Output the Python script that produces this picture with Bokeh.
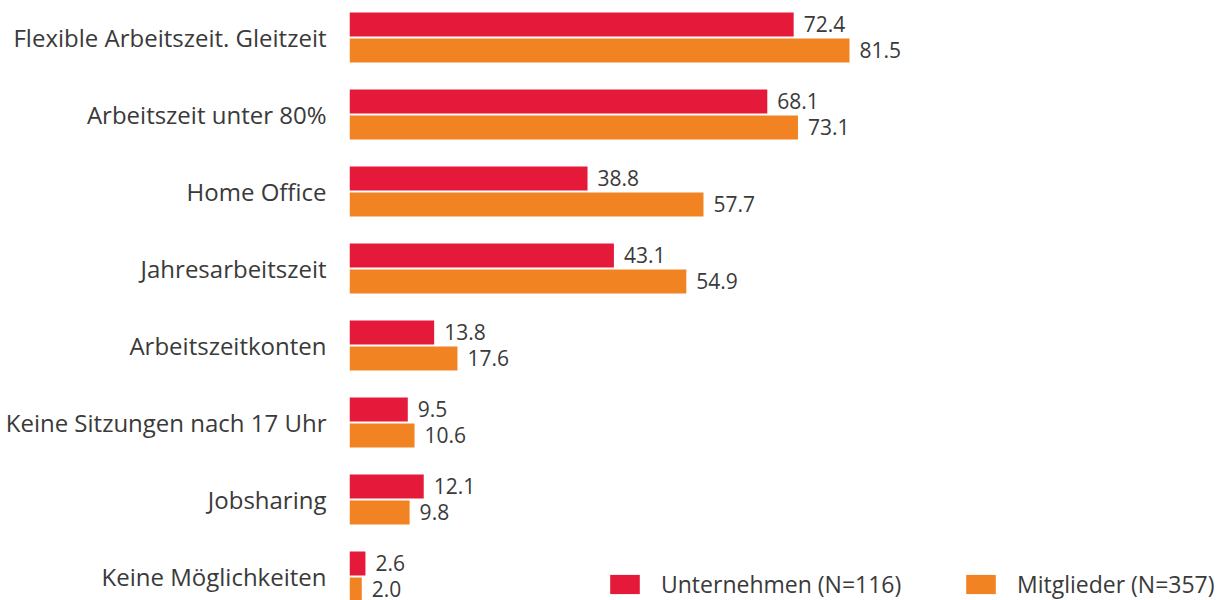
from bokeh.plotting import figure
from bokeh.models import Range1d, FixedTicker, Legend, LegendItem, ColumnDataSource
from bokeh.transform import dodge
from bokeh.core.properties import value
from bokeh.embed import file_html
from bokeh.resources import INLINE

categories = ["Flexible Arbeitszeit. Gleitzeit", "Arbeitszeit unter 80%", "Home Office",
              "Jahresarbeitszeit", "Arbeitszeitkonten", "Keine Sitzungen nach 17 Uhr",
              "Jobsharing", "Keine Möglichkeiten"]
unternehmen = [72.4, 68.1, 38.8, 43.1, 13.8, 9.5, 12.1, 2.6]
mitglieder = [81.5, 73.1, 57.7, 54.9, 17.6, 10.6, 9.8, 2.0]
series_names = ["Unternehmen (N=116)", "Mitglieder (N=357)"]

RED = "#E5193A"
ORANGE = "#F28322"
TXT = "#3a3a3a"
FONT = "Open Sans"

n = len(categories)
pos = list(range(n))
src = ColumnDataSource(dict(
    pos=pos, u=unternehmen, m=mitglieder,
    ul=[f"{v:.1f}" for v in unternehmen], ml=[f"{v:.1f}" for v in mitglieder]))

W, H = 1231, 600
LEFT = 349
p = figure(width=W, height=H, output_backend="svg", toolbar_location=None,
           x_range=Range1d(0, (W - LEFT) / 6.135),
           y_range=Range1d(n - 1 + 24 / 77, -37 / 77),
           min_border_left=LEFT, min_border_right=0, min_border_top=0, min_border_bottom=0)
p.outline_line_color = None
p.grid.visible = False
p.xaxis.visible = False
p.background_fill_color = None
p.border_fill_color = "white"

bh = 24 / 77
off = 13 / 77
r1 = p.hbar(y=dodge("pos", -off, range=p.y_range), right="u", left=0, height=bh,
            color=RED, line_color=None, source=src)
r2 = p.hbar(y=dodge("pos", off, range=p.y_range), right="m", left=0, height=bh,
            color=ORANGE, line_color=None, source=src)

for col, lab, o in (("u", "ul", -off), ("m", "ml", off)):
    p.text(x=col, y=dodge("pos", o, range=p.y_range), text=lab, source=src,
           x_offset=10, y_offset=-1, text_baseline="middle", text_align="left",
           text_font=value(FONT), text_font_size="21px", text_color=TXT)

ya = p.yaxis[0]
ya.ticker = FixedTicker(ticks=pos)
ya.major_label_overrides = {i: c for i, c in enumerate(categories)}
ya.axis_line_color = None
ya.major_tick_line_color = None
ya.minor_tick_line_color = None
ya.major_label_text_font = FONT
ya.major_label_text_font_size = "24px"
ya.major_label_text_color = TXT
ya.major_label_standoff = 17

for r, name, x in ((r1, series_names[0], 606 - LEFT), (r2, series_names[1], 962 - LEFT)):
    lg = Legend(items=[LegendItem(label=name, renderers=[r])], location=(x, 0),
                orientation="horizontal", glyph_width=37, glyph_height=24,
                label_standoff=18, padding=0, margin=0, spacing=0,
                label_text_font=FONT, label_text_font_size="23px", label_text_color=TXT,
                border_line_color=None, background_fill_alpha=0, label_height=24)
    p.add_layout(lg, "center")

open("out.html", "w").write(file_html(p, INLINE))
